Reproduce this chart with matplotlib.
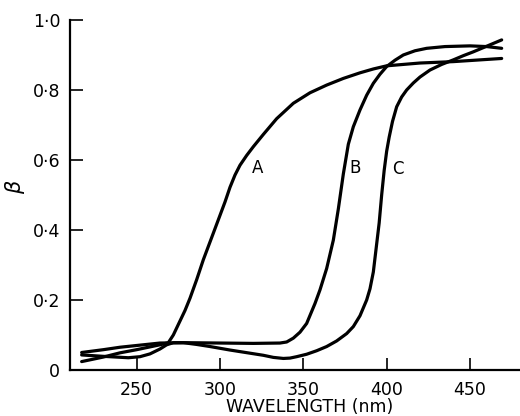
import matplotlib
matplotlib.use("Agg")
import matplotlib.pyplot as plt

# Curve values (wavelength in nm, beta).
a_nm = [217, 230, 240, 250, 258, 264, 269, 272, 276, 279, 282, 286, 290,
        296, 303, 306, 309, 312, 316, 320, 326, 334, 344, 354, 364, 374,
        384, 392, 400, 420, 440, 469]
a_beta = [0.024, 0.037, 0.049, 0.058, 0.066, 0.072, 0.078, 0.1, 0.14, 0.17,
          0.205, 0.258, 0.315, 0.391, 0.48, 0.522, 0.557, 0.585, 0.613,
          0.638, 0.673, 0.718, 0.762, 0.792, 0.814, 0.833, 0.849, 0.86,
          0.869, 0.877, 0.881, 0.89]

b_nm = [217, 230, 240, 250, 264, 280, 300, 320, 336, 340, 344, 348, 352,
        357, 360, 364, 368, 371, 374, 377, 380, 384, 388, 392, 396, 400,
        405, 410, 417, 424, 435, 450, 460, 469]
b_beta = [0.05, 0.058, 0.065, 0.07, 0.077, 0.078, 0.077, 0.076, 0.077, 0.08,
          0.091, 0.108, 0.133, 0.19, 0.229, 0.29, 0.371, 0.46, 0.56, 0.645,
          0.695, 0.743, 0.785, 0.819, 0.845, 0.867, 0.885, 0.9, 0.912, 0.919,
          0.924, 0.926, 0.924, 0.919]

c_nm = [217, 230, 245, 252, 258, 264, 268, 272, 278, 286, 294, 306, 318,
        326, 332, 338, 342, 346, 352, 358, 364, 370, 376, 380, 384, 388,
        390, 392, 394, 395.5, 397, 398.5, 400, 401.5, 403.5, 406, 409, 412,
        416, 420, 426, 433, 440, 446, 452, 460, 469]
c_beta = [0.043, 0.039, 0.035, 0.038, 0.046, 0.06, 0.072, 0.078, 0.078,
          0.073, 0.067, 0.057, 0.048, 0.042, 0.036, 0.033, 0.034, 0.038,
          0.045, 0.055, 0.067, 0.083, 0.104, 0.124, 0.155, 0.2, 0.232, 0.28,
          0.36, 0.42, 0.5, 0.57, 0.625, 0.665, 0.71, 0.752, 0.78, 0.8, 0.82,
          0.837, 0.857, 0.873, 0.886, 0.898, 0.909, 0.925, 0.943]

curve_labels = ["A", "B", "C"]
label_nm = [322.6, 381, 407]
label_beta = [0.576, 0.576, 0.573]

x_ticks = [250, 300, 350, 400, 450]
y_ticks = [0, 0.2, 0.4, 0.6, 0.8, 1.0]
y_tick_labels = ["0", "0\u00b72", "0\u00b74", "0\u00b76", "0\u00b78", "1\u00b70"]

fig = plt.figure(figsize=(5.2, 4.16), dpi=100)
ax = fig.add_axes([0.1346, 0.1106, 0.8654, 0.8414])

for xs, ys in [(a_nm, a_beta), (b_nm, b_beta), (c_nm, c_beta)]:
    ax.plot(xs, ys, color="black", lw=2.3, solid_capstyle="round",
            solid_joinstyle="round", clip_on=False)

for lab, lx, ly in zip(curve_labels, label_nm, label_beta):
    ax.text(lx, ly, lab, fontsize=12, ha="center", va="center")

ax.set_xlim(210, 480)
ax.set_ylim(0, 1.0)
ax.spines["top"].set_visible(False)
ax.spines["right"].set_visible(False)
ax.spines["left"].set_linewidth(1.6)
ax.spines["bottom"].set_linewidth(1.6)

ax.set_xticks(x_ticks)
ax.set_yticks(y_ticks)
ax.set_yticklabels(y_tick_labels)
ax.tick_params(direction="in", length=9, width=1.2, labelsize=12.5)
ax.tick_params(axis="y", pad=7)
ax.tick_params(axis="x", pad=8)

ax.set_xlabel("WAVELENGTH (nm)", fontsize=12.5)
ax.xaxis.set_label_coords(0.533, -0.08)
ax.set_ylabel(r"$\beta$", fontsize=15)
ax.yaxis.set_label_coords(-0.096, 0.523)

fig.savefig("out.png", dpi=100)
